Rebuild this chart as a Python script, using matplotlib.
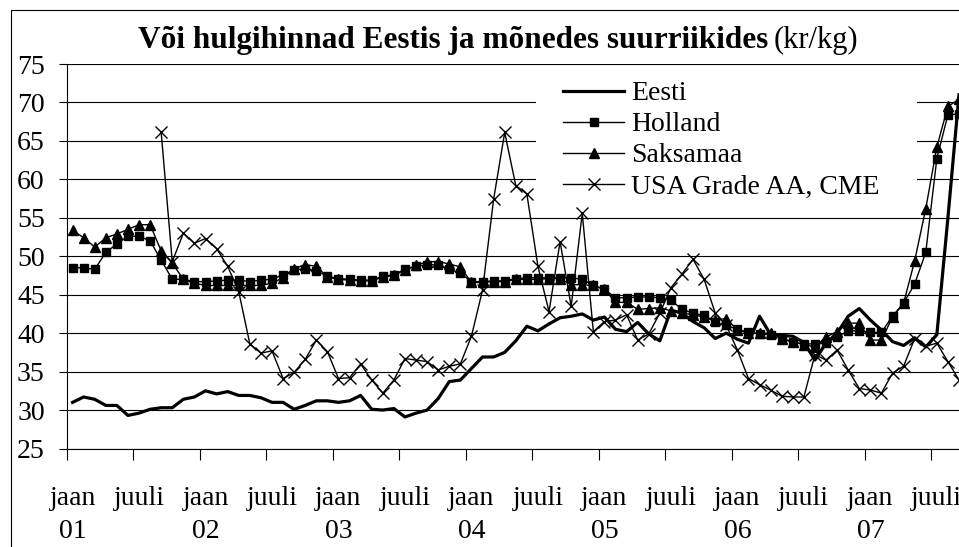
import numpy as np
import matplotlib
matplotlib.use("Agg")
import matplotlib.pyplot as plt
from matplotlib.patches import Rectangle

nan = np.nan

# monthly prices, jaan 2001 ... sept 2007 (kr/kg)
months = np.arange(81)

eesti = [31.0, 31.7, 31.4, 30.6, 30.6, 29.3, 29.6, 30.1, 30.3, 30.3,
         31.4, 31.7, 32.5, 32.1, 32.4, 31.9, 31.9, 31.6, 31.0, 31.0,
         30.1, 30.6, 31.2, 31.2, 31.0, 31.2, 31.9, 30.1, 30.0, 30.2,
         29.1, 29.6, 30.0, 31.5, 33.7, 33.9, 35.4, 36.9, 36.9, 37.5,
         39.0, 40.9, 40.3, 41.2, 42.0, 42.2, 42.5, 41.7, 42.1, 40.5,
         40.2, 41.4, 39.9, 39.0, 43.0, 42.6, 41.5, 40.7, 39.3, 40.0,
         39.2, 38.7, 42.2, 39.8, 39.7, 39.6, 38.8, 36.5, 38.7, 40.0,
         42.2, 43.2, 41.7, 40.4, 38.9, 38.4, 39.4, 38.2, 39.8, 55.0, 71.0]

holland = [48.5, 48.5, 48.3, 50.5, 51.6, 52.6, 52.6, 52.0, 49.5, 47.0,
           47.0, 46.7, 46.7, 46.8, 46.9, 46.9, 46.7, 46.9, 47.0, 47.6,
           48.2, 48.4, 48.1, 47.4, 47.1, 47.0, 46.9, 46.9, 47.4, 47.6,
           48.3, 48.7, 48.9, 48.9, 48.3, 47.8, 46.7, 46.7, 46.8, 46.8,
           47.1, 47.2, 47.2, 47.2, 47.2, 47.2, 47.0, 46.2, 45.7, 44.6,
           44.6, 44.7, 44.7, 44.6, 44.3, 43.1, 42.6, 42.3, 41.4, 41.0,
           40.5, 40.1, 39.9, 39.8, 39.3, 38.8, 38.6, 38.6, 38.7, 39.5,
           40.3, 40.3, 40.1, 40.1, 42.2, 43.9, 46.4, 50.5, 62.7, 68.4, 68.5]

saksamaa = [53.4, 52.4, 51.2, 52.4, 52.9, 53.5, 54.1, 54.1, 50.7, 49.1,
            47.0, 46.5, 46.2, 46.2, 46.2, 46.2, 46.2, 46.2, 46.5, 47.2,
            48.4, 48.9, 48.7, 47.3, 47.0, 46.9, 46.8, 46.8, 47.3, 47.5,
            48.2, 48.8, 49.3, 49.3, 49.0, 48.6, 46.6, 46.6, 46.7, 46.7,
            47.0, 47.0, 47.0, 47.1, 47.1, 46.3, 46.3, 46.2, 45.7, 44.0,
            44.0, 43.1, 43.2, 43.3, 42.9, 42.6, 42.4, 42.1, 41.7, 41.9,
            40.4, 40.0, 40.0, 40.0, 39.3, 38.9, 38.5, 38.2, 39.5, 40.2,
            41.3, 41.3, 39.1, 39.1, 42.1, 43.9, 49.4, 56.2, 64.2, 69.5, 70.4]

usa = [nan] * 8 + [
    66.1, 49.3, 53.0, 51.7, 52.3, 51.0, 48.7, 45.4, 38.6, 37.4,
    37.7, 34.1, 34.9, 36.6, 39.1, 37.6, 34.1, 34.2, 36.0, 33.9,
    32.2, 33.9, 36.7, 36.5, 36.3, 35.2, 35.7, 36.0, 39.6, 45.6,
    57.4, 66.1, 59.2, 58.1, 48.7, 42.8, 51.9, 43.5, 55.6, 40.2,
    41.5, 41.7, 42.4, 39.1, 39.9, 42.6, 45.9, 47.7, 49.6, 47.0,
    42.6, 41.0, 37.8, 34.1, 33.3, 32.6, 31.8, 31.7, 31.7, 37.2,
    36.5, 37.8, 35.2, 32.8, 32.6, 32.2, 34.8, 35.7, 39.3, 38.3,
    38.7, 36.3, 33.9]

years = ["01", "02", "03", "04", "05", "06", "07"]
tick_labels = []
for y in years:
    tick_labels += ["jaan\n" + y, "juuli"]

plt.rcParams["font.family"] = ["Liberation Serif", "DejaVu Serif"]
plt.rcParams["font.size"] = 20

W, H = 959, 547
fig = plt.figure(figsize=(W / 100, H / 100), dpi=100)
ax = fig.add_axes([67 / W, 1 - 448.5 / H, (W - 67) / W, (448.5 - 64) / H])

ax.plot(months, eesti, color="black", lw=2.3, label="Eesti", zorder=3)
ax.plot(months, holland, color="black", lw=1.0, marker="s", ms=6,
        label="Holland", zorder=3.2)
ax.plot(months, saksamaa, color="black", lw=1.0, marker="^", ms=7,
        label="Saksamaa", zorder=3.1)
ax.plot(months, usa, color="black", lw=1.0, marker="x", ms=8, mew=1.0,
        label="USA Grade AA, CME", zorder=3.3)

ax.set_xlim(-0.5, 80.0)
ax.set_ylim(25, 75)
ax.set_yticks(np.arange(25, 80, 5))
ax.yaxis.grid(True, color="black", lw=0.8)
ax.tick_params(axis="y", direction="out", length=6, width=0.8, pad=10,
               labelsize=20)

ax.set_xticks(np.arange(-0.5, 80, 6))
ax.set_xticklabels([])
ax.set_xticks(np.arange(0, 80, 6), minor=True)
ax.set_xticklabels(tick_labels, minor=True, linespacing=1.4)
ax.tick_params(axis="x", which="major", direction="out", length=8, width=0.8)
ax.tick_params(axis="x", which="minor", length=0, pad=27, labelsize=20)

for s in ["top", "right"]:
    ax.spines[s].set_visible(False)
for s in ["left", "bottom"]:
    ax.spines[s].set_linewidth(0.8)

# white area behind the legend
ax.add_patch(Rectangle((536 / W, 1 - 205 / H), 381 / W, 135 / H,
                       transform=fig.transFigure, facecolor="white",
                       edgecolor="none", zorder=2))
ax.legend(loc="upper left", bbox_to_anchor=(563 / W, 1 - 81 / H),
          bbox_transform=fig.transFigure, frameon=False, fontsize=20,
          handlelength=2.2, handletextpad=0.25, labelspacing=0.2,
          borderpad=0, borderaxespad=0)

fig.text(768 / W, 1 - 48 / H, "Või hulgihinnad Eestis ja mõnedes suurriikides",
         ha="right", va="baseline", fontsize=22.5, fontweight="bold")
fig.text(774 / W, 1 - 48 / H, "(kr/kg)", ha="left", va="baseline", fontsize=22)

fig.add_artist(Rectangle((11 / W, -0.1), 2, 1.1 - 10 / H,
                         transform=fig.transFigure, facecolor="none",
                         edgecolor="black", lw=0.8))

fig.savefig("out.png", dpi=100)
